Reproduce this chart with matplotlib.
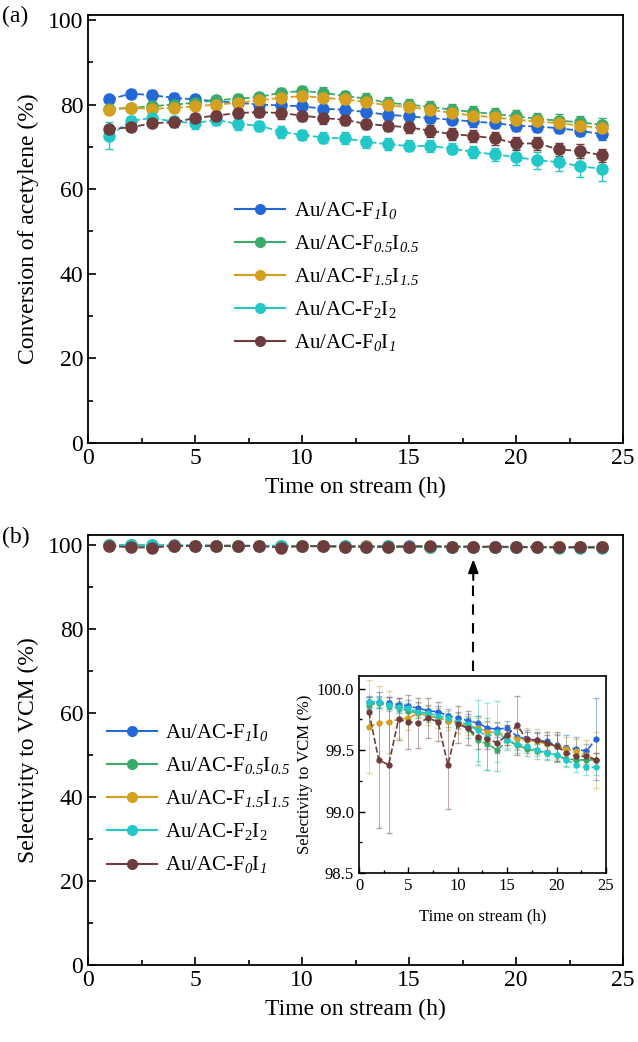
import matplotlib
matplotlib.use('Agg')
import matplotlib.pyplot as plt
from matplotlib.ticker import MultipleLocator, FormatStrFormatter
from matplotlib.lines import Line2D

plt.rcParams['font.family'] = ['Liberation Serif', 'DejaVu Serif']
plt.rcParams['mathtext.fontset'] = 'custom'
plt.rcParams['mathtext.rm'] = 'Liberation Serif'
# digits in \mathit fall back to roman, so borrow the sf slot for italic subscripts
plt.rcParams['mathtext.sf'] = 'Liberation Serif:italic'

# time on stream (h)
hours = list(range(1, 25))

labels = [r'Au/AC-F$_{\mathsf{1}}$I$_{\mathsf{0}}$',
          r'Au/AC-F$_{\mathsf{0.5}}$I$_{\mathsf{0.5}}$',
          r'Au/AC-F$_{\mathsf{1.5}}$I$_{\mathsf{1.5}}$',
          r'Au/AC-F$_{2}$I$_{2}$',
          r'Au/AC-F$_{\mathsf{0}}$I$_{\mathsf{1}}$']
colors = ['#2468d8', '#3aaa6a', '#d4a020', '#22c8c8', '#6e3c3c']

# (a) conversion of acetylene (%)
conv_f1i0 = [81.2, 82.6, 82.2, 81.6, 81.2, 80.8, 80.4, 80.0, 79.8, 79.6, 79.0, 78.8,
             78.2, 77.6, 77.2, 76.8, 76.4, 76.0, 75.6, 75.0, 74.8, 74.4, 73.8, 73.0]
conv_f05i05 = [79.0, 79.2, 79.6, 80.0, 80.4, 81.0, 81.4, 81.8, 82.8, 83.2, 82.8, 82.0,
               81.4, 80.4, 80.0, 79.4, 78.8, 78.2, 77.8, 77.2, 76.6, 76.2, 75.8, 75.2]
conv_f15i15 = [78.8, 79.2, 79.0, 79.2, 79.6, 80.0, 80.4, 81.0, 81.6, 82.0, 81.6, 81.2,
               80.6, 79.8, 79.4, 78.8, 78.0, 77.4, 77.0, 76.4, 76.0, 75.6, 75.0, 74.4]
conv_f2i2 = [72.6, 76.2, 76.8, 76.0, 75.6, 76.4, 75.4, 75.0, 73.6, 72.8, 72.2, 72.0,
             71.2, 70.6, 70.2, 70.2, 69.6, 68.8, 68.2, 67.6, 66.8, 66.4, 65.4, 64.8]
conv_f0i1 = [74.2, 74.6, 75.6, 75.8, 76.8, 77.4, 78.0, 78.2, 78.0, 77.4, 76.8, 76.4,
             75.4, 75.0, 74.6, 73.8, 73.0, 72.6, 72.0, 70.8, 70.8, 69.4, 69.0, 68.0]

conv_err_f1i0 = [0.6, 0.9, 1.2, 1.1, 1.0, 0.8, 0.8, 0.8, 0.9, 1.0, 1.0, 1.0,
                 1.0, 1.0, 1.1, 1.1, 1.1, 1.2, 1.2, 1.2, 1.2, 1.2, 1.3, 1.3]
conv_err_f05i05 = [0.8, 0.8, 0.9, 0.9, 0.9, 1.0, 1.0, 1.0, 1.2, 1.3, 1.3, 1.3,
                   1.3, 1.3, 1.3, 1.4, 1.4, 1.4, 1.5, 1.5, 1.5, 1.6, 1.6, 1.7]
conv_err_f15i15 = [0.8, 0.8, 0.9, 0.9, 0.9, 0.9, 1.0, 1.0, 1.1, 1.1, 1.1, 1.1,
                   1.1, 1.2, 1.2, 1.2, 1.3, 1.3, 1.3, 1.3, 1.4, 1.4, 1.5, 1.5]
conv_err_f2i2 = [3.2, 1.2, 1.4, 1.2, 1.4, 1.2, 1.4, 1.2, 1.4, 1.2, 1.2, 1.4,
                 1.4, 1.4, 1.3, 1.4, 1.4, 1.5, 1.6, 1.8, 2.0, 2.2, 2.5, 2.8]
conv_err_f0i1 = [0.8, 0.8, 1.0, 1.0, 1.0, 1.1, 1.2, 1.2, 1.3, 1.3, 1.3, 1.3,
                 1.3, 1.3, 1.3, 1.4, 1.4, 1.4, 1.5, 1.5, 1.6, 1.6, 1.6, 1.6]

# (b) selectivity to VCM (%)
sel_f1i0 = [99.89, 99.89, 99.88, 99.87, 99.86, 99.84, 99.82, 99.81, 99.78, 99.76, 99.74, 99.72,
            99.68, 99.67, 99.68, 99.61, 99.59, 99.58, 99.57, 99.54, 99.52, 99.51, 99.49, 99.59]
sel_f05i05 = [99.87, 99.88, 99.86, 99.84, 99.82, 99.80, 99.78, 99.76, 99.74, 99.72, 99.68, 99.58,
              99.55, 99.50, 99.58, 99.54, 99.51, 99.49, 99.48, 99.46, 99.43, 99.42, 99.42, 99.42]
sel_f15i15 = [99.69, 99.72, 99.73, 99.75, 99.76, 99.80, 99.78, 99.76, 99.74, 99.72, 99.70, 99.68,
              99.65, 99.64, 99.62, 99.59, 99.58, 99.57, 99.55, 99.53, 99.51, 99.49, 99.46, 99.42]
sel_f2i2 = [99.89, 99.89, 99.87, 99.85, 99.84, 99.81, 99.80, 99.78, 99.76, 99.73, 99.71, 99.66,
            99.61, 99.65, 99.58, 99.55, 99.53, 99.50, 99.48, 99.46, 99.42, 99.38, 99.36, 99.36]
sel_f0i1 = [99.81, 99.42, 99.38, 99.75, 99.73, 99.72, 99.76, 99.73, 99.38, 99.71, 99.68, 99.61,
            99.59, 99.56, 99.62, 99.70, 99.59, 99.58, 99.56, 99.53, 99.48, 99.45, 99.45, 99.42]

sel_err_f1i0 = [0.05, 0.05, 0.05, 0.05, 0.05, 0.05, 0.05, 0.05, 0.05, 0.05, 0.05, 0.06,
                0.06, 0.06, 0.06, 0.07, 0.07, 0.07, 0.08, 0.08, 0.1, 0.1, 0.06, 0.33]
sel_err_f05i05 = [0.04, 0.04, 0.04, 0.04, 0.04, 0.04, 0.05, 0.05, 0.05, 0.05, 0.08, 0.2,
                  0.21, 0.17, 0.08, 0.06, 0.06, 0.06, 0.06, 0.06, 0.06, 0.06, 0.06, 0.06]
sel_err_f15i15 = [0.38, 0.3, 0.25, 0.15, 0.1, 0.08, 0.08, 0.08, 0.08, 0.08, 0.08, 0.08,
                  0.08, 0.08, 0.08, 0.08, 0.1, 0.1, 0.1, 0.1, 0.1, 0.1, 0.12, 0.23]
sel_err_f2i2 = [0.04, 0.04, 0.04, 0.04, 0.04, 0.04, 0.04, 0.04, 0.04, 0.05, 0.06, 0.25,
                0.27, 0.25, 0.06, 0.05, 0.05, 0.05, 0.05, 0.05, 0.06, 0.06, 0.06, 0.06]
sel_err_f0i1 = [0.12, 0.55, 0.55, 0.17, 0.22, 0.2, 0.16, 0.16, 0.36, 0.15, 0.14, 0.1,
                0.08, 0.08, 0.08, 0.24, 0.06, 0.06, 0.06, 0.12, 0.06, 0.06, 0.06, 0.06]

conv = [conv_f1i0, conv_f05i05, conv_f15i15, conv_f2i2, conv_f0i1]
conv_err = [conv_err_f1i0, conv_err_f05i05, conv_err_f15i15, conv_err_f2i2, conv_err_f0i1]
sel = [sel_f1i0, sel_f05i05, sel_f15i15, sel_f2i2, sel_f0i1]
sel_err = [sel_err_f1i0, sel_err_f05i05, sel_err_f15i15, sel_err_f2i2, sel_err_f0i1]

fig = plt.figure(figsize=(6.38, 10.42), dpi=100)
ax1 = fig.add_axes([0.138, 0.575, 0.8386, 0.4107])
ax2 = fig.add_axes([0.138, 0.074, 0.8386, 0.4127])
ins = fig.add_axes([0.5627, 0.162, 0.387, 0.189])


def style_main(ax, ylabel, ytop):
    ax.set_xlim(0, 25)
    ax.set_ylim(0, ytop)
    ax.xaxis.set_major_locator(MultipleLocator(5))
    ax.xaxis.set_minor_locator(MultipleLocator(2.5))
    ax.yaxis.set_major_locator(MultipleLocator(20))
    ax.yaxis.set_minor_locator(MultipleLocator(10))
    ax.tick_params(which='both', direction='in', labelsize=17, width=1.2)
    ax.tick_params(which='major', length=6)
    ax.tick_params(which='minor', length=3.5)
    for s in ax.spines.values():
        s.set_linewidth(1.3)
    ax.set_xlabel('Time on stream (h)', fontsize=17, labelpad=6)
    ax.set_ylabel(ylabel, fontsize=17, labelpad=6)


# legend handles: solid line through a dot
handles = [Line2D([], [], color=c, lw=1.5, marker='o', ms=7, mec=c, mfc=c) for c in colors]
leg_kw = dict(frameon=False, fontsize=15, handlelength=2.4, handletextpad=0.4,
              labelspacing=0.55)

# Panel (a)
for y, e, c in zip(conv, conv_err, colors):
    ax1.errorbar(hours, y, yerr=e, color=c, ls='--', lw=1.3, marker='o', ms=8,
                 mec=c, mfc=c, capsize=3, elinewidth=1)
style_main(ax1, 'Conversion of acetylene (%)', 101.2)
ax1.legend(handles, labels, loc='upper left', bbox_to_anchor=(0.24, 0.61), **leg_kw)

# Panel (b)
for y, e, c in zip(sel, sel_err, colors):
    ax2.errorbar(hours, y, yerr=e, color=c, ls='--', lw=1.3, marker='o', ms=8,
                 mec=c, mfc=c, capsize=2, elinewidth=0.8)
style_main(ax2, 'Selectivity to VCM (%)', 102.4)
ax2.legend(handles, labels, loc='upper left', bbox_to_anchor=(0.0, 0.607), **leg_kw)

# dashed pointer from the curve to the inset
ax2.plot([18, 18], [70, 92], color='black', ls=(0, (5, 4)), lw=1.5)
ax2.annotate('', xy=(18, 97.3), xytext=(18, 91),
             arrowprops=dict(arrowstyle='-|>,head_width=0.3,head_length=0.8',
                             color='black', lw=1.5))

# Inset
for y, e, c in zip(sel, sel_err, colors):
    eb = ins.errorbar(hours, y, yerr=e, color=c, ls='--', lw=1.2, marker='o', ms=3.5,
                      capsize=2, elinewidth=0.7, ecolor=c)
    for part in eb[1] + eb[2]:
        part.set_alpha(0.45)
ins.set_xlim(0, 25)
ins.set_ylim(98.5, 100.1)
ins.xaxis.set_major_locator(MultipleLocator(5))
ins.xaxis.set_minor_locator(MultipleLocator(2.5))
ins.yaxis.set_major_locator(MultipleLocator(0.5))
ins.yaxis.set_minor_locator(MultipleLocator(0.25))
ins.yaxis.set_major_formatter(FormatStrFormatter('%.1f'))
ins.tick_params(which='both', direction='in', labelsize=12, width=1)
ins.tick_params(which='major', length=4)
ins.tick_params(which='minor', length=2)
ins.set_xlabel('Time on stream (h)', fontsize=12, labelpad=10)
ins.set_ylabel('Selectivity to VCM (%)', fontsize=12, labelpad=3)
for s in ins.spines.values():
    s.set_linewidth(1.2)

fig.text(0.003, 0.984, '(a)', fontsize=17, va='center')
fig.text(0.003, 0.4845, '(b)', fontsize=17, va='center')

plt.savefig('out.png', dpi=100)
